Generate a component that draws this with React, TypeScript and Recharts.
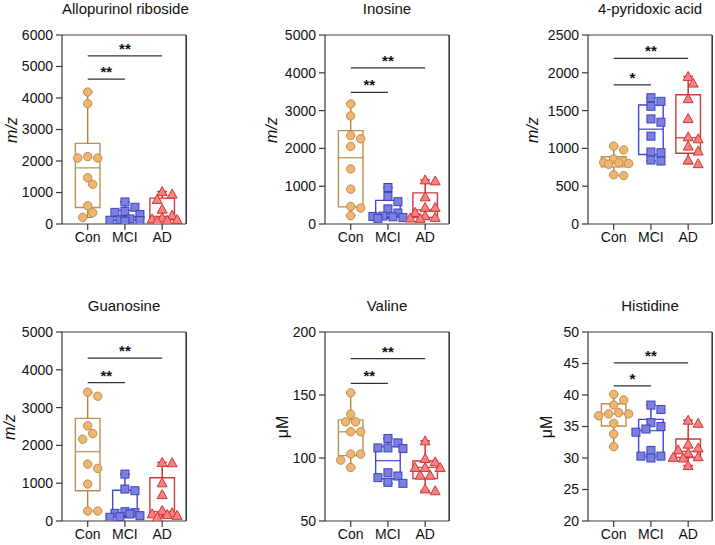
import React from "react";
import {
  ComposedChart,
  XAxis,
  YAxis,
  Scatter,
  ReferenceArea,
  ReferenceLine,
  ReferenceDot,
} from "recharts";

const groups = ["Con", "MCI", "AD"];

// Allopurinol riboside (m/z)
const alloCon = [4190, 3820, 2140, 2095, 2095, 1470, 1260, 580, 360, 210];
const alloMci = [700, 530, 400, 370, 300, 160, 130, 120, 110, 90];
const alloAd = [1030, 950, 780, 470, 280, 200, 160, 140, 120, 100];
const alloTicks = [0, 1000, 2000, 3000, 4000, 5000, 6000];
const alloSig = [4600, 5340];
const alloStars = ["**", "**"];

// Inosine (m/z)
const inoCon = [3175, 2860, 2342, 2254, 2053, 1456, 921, 465, 421, 219];
const inoMci = [965, 730, 590, 400, 290, 210, 200, 190, 170, 150];
const inoAd = [1167, 1140, 719, 439, 439, 307, 219, 175, 158, 149];
const inoTicks = [0, 1000, 2000, 3000, 4000, 5000];
const inoSig = [3480, 4130];
const inoStars = ["**", "**"];

// 4-pyridoxic acid (m/z)
const pyrCon = [1030, 980, 860, 830, 815, 810, 800, 790, 650, 640];
const pyrMci = [1670, 1623, 1557, 1390, 1346, 1162, 952, 943, 846, 833];
const pyrAd = [1952, 1864, 1658, 1395, 1154, 1127, 1031, 965, 846, 798];
const pyrTicks = [0, 500, 1000, 1500, 2000, 2500];
const pyrSig = [1840, 2190];
const pyrStars = ["*", "**"];

// Guanosine (m/z)
const guaCon = [3407, 3301, 2518, 2315, 2165, 1505, 1391, 977, 264, 264];
const guaMci = [1241, 845, 801, 246, 220, 202, 185, 141, 114, 97];
const guaAd = [1550, 1540, 1010, 700, 280, 220, 190, 170, 150, 100];
const guaTicks = [0, 1000, 2000, 3000, 4000, 5000];
const guaSig = [3660, 4310];
const guaStars = ["**", "**"];

// Valine (uM)
const valCon = [151.7, 134.8, 128.7, 128.7, 120.8, 120.8, 103.1, 103.1, 98.3, 92.5];
const valMci = [115.5, 112, 108, 108, 107.5, 88.3, 85.7, 84.4, 80.7, 79.9];
const valAd = [113.6, 99.6, 97, 92.5, 92.5, 92.5, 86.4, 86.4, 75.4, 74];
const valTicks = [50, 100, 150, 200];
const valSig = [159.3, 178.9];
const valStars = ["**", "**"];

// Histidine (uM)
const hisCon = [40.1, 39.2, 38.4, 37.2, 37.0, 37.0, 36.7, 35.5, 33.8, 31.8];
const hisMci = [38.4, 37.7, 35.6, 35.0, 34.6, 34.1, 31.2, 30.3, 30.3, 30.0];
const hisAd = [36.0, 35.5, 32.2, 31.6, 31.3, 30.8, 30.2, 30.1, 30.0, 28.8];
const hisTicks = [20, 25, 30, 35, 40, 45, 50];
const hisSig = [41.44, 45.09];
const hisStars = ["*", "**"];

const FONT = "'Liberation Sans', Arial, sans-serif";
const AXIS = "#3a3a3a";
const X_DOMAIN = [-0.69, 2.64];
const PLOT_W = 124;
const PLOT_H = 189;

const palette = [
  { fill: "#efb572", edge: "#c08d45", box: "#b5843c" },
  { fill: "#7b80d8", edge: "#3b3fc8", box: "#3034d6" },
  { fill: "#f38282", edge: "#d33434", box: "#c92323" },
];

// GraphPad-style quantile: rank (n+1)p, interpolated
function quantile(values: number[], p: number) {
  const s = [...values].sort((a, b) => a - b);
  const r = (s.length + 1) * p - 1;
  const lo = Math.max(0, Math.min(s.length - 1, Math.floor(r)));
  const hi = Math.min(s.length - 1, lo + 1);
  return s[lo] + (r - lo) * (s[hi] - s[lo]);
}

// small beeswarm: push overlapping points sideways, overlap allowed when crowded
function swarm(values: number[], pxPerUnit: number) {
  const d = 8;
  const step = 5;
  const xPx = PLOT_W / (X_DOMAIN[1] - X_DOMAIN[0]);
  const placed: { dx: number; py: number }[] = [];
  const order = values.map((_, i) => i).sort((a, b) => values[b] - values[a]);
  const out = values.map(() => 0);
  const cols = [0, 1, -1, 2, -2, 3, -3];
  for (const i of order) {
    const py = values[i] * pxPerUnit;
    let best = 0;
    let bestDist = -1;
    for (const m of cols) {
      const dx = m * step;
      const dist = placed.reduce((acc, p) => Math.min(acc, Math.hypot(p.dx - dx, p.py - py)), Infinity);
      if (dist >= d) {
        best = dx;
        break;
      }
      if (dist > bestDist) {
        bestDist = dist;
        best = dx;
      }
    }
    placed.push({ dx: best, py });
    out[i] = best / xPx;
  }
  return out;
}

const Circle = (p: any) => (
  <circle cx={p.cx} cy={p.cy} r={4.2} fill={palette[0].fill} stroke={palette[0].edge} strokeWidth={1} />
);
const Square = (p: any) => (
  <rect x={p.cx - 4} y={p.cy - 4} width={8} height={8} fill={palette[1].fill} stroke={palette[1].edge} strokeWidth={1} />
);
const Triangle = (p: any) => (
  <polygon
    points={`${p.cx},${p.cy - 5} ${p.cx - 5},${p.cy + 4} ${p.cx + 5},${p.cy + 4}`}
    fill={palette[2].fill}
    stroke={palette[2].edge}
    strokeWidth={1}
  />
);
const shapes = [Circle, Square, Triangle];

type PanelProps = {
  title: string;
  unit: string;
  italic: boolean;
  series: number[][];
  ticks: number[];
  sig: number[];
  stars: string[];
  left: number;
  top: number;
  labelGap: number;
};

function BoxPanel({ title, unit, italic, series, ticks, sig, stars, left, top, labelGap }: PanelProps) {
  const yMin = ticks[0];
  const yMax = ticks[ticks.length - 1];
  const pxPerUnit = PLOT_H / (yMax - yMin);
  const marginTop = 35;
  const yAxisW = 62;
  const width = yAxisW + PLOT_W + 14;
  const height = marginTop + PLOT_H + 40;
  const half = 0.33;
  const cap = 0.13;

  return (
    <div style={{ position: "absolute", left, top, width, height }}>
      <div
        style={{
          position: "absolute",
          left: yAxisW,
          width: PLOT_W,
          top: 0,
          textAlign: "center",
          fontFamily: FONT,
          fontSize: 15,
          color: "#111",
          whiteSpace: "nowrap",
        }}
      >
        {title}
      </div>
      <div
        style={{
          position: "absolute",
          left: yAxisW - labelGap - 30,
          top: marginTop + PLOT_H / 2 - 10,
          width: 60,
          height: 20,
          lineHeight: "20px",
          textAlign: "center",
          transform: "rotate(-90deg)",
          fontFamily: FONT,
          fontSize: 16,
          fontStyle: italic ? "italic" : "normal",
          color: "#111",
        }}
      >
        {unit}
      </div>
      <ComposedChart
        width={width}
        height={height}
        margin={{ top: marginTop, right: 14, bottom: 10, left: 0 }}
        style={{ position: "absolute", left: 0, top: 0 }}
      >
        <XAxis
          type="number"
          dataKey="x"
          domain={X_DOMAIN}
          ticks={[0, 1, 2]}
          tickFormatter={(v: number) => groups[v] ?? ""}
          allowDataOverflow
          height={30}
          tickSize={6}
          tickMargin={2}
          stroke={AXIS}
          strokeWidth={1.2}
          tick={{ fill: "#111", fontSize: 14, fontFamily: FONT }}
        />
        <YAxis
          type="number"
          dataKey="y"
          domain={[yMin, yMax]}
          ticks={ticks}
          allowDataOverflow
          width={yAxisW}
          tickSize={6}
          tickMargin={3}
          stroke={AXIS}
          strokeWidth={1.2}
          tick={{ fill: "#111", fontSize: 14, fontFamily: FONT }}
        />
        {/* top and right edges of the plot frame */}
        <ReferenceLine y={yMax} stroke={AXIS} strokeWidth={1.2} />
        <ReferenceLine x={X_DOMAIN[1]} stroke={AXIS} strokeWidth={1.2} />
        {series.map((vals, i) => {
          const lo = Math.min(...vals);
          const hi = Math.max(...vals);
          const q1 = quantile(vals, 0.25);
          const med = quantile(vals, 0.5);
          const q3 = quantile(vals, 0.75);
          const c = palette[i].box;
          return (
            <React.Fragment key={`box${i}`}>
              <ReferenceLine segment={[{ x: i, y: q3 }, { x: i, y: hi }]} stroke={c} strokeWidth={1.4} />
              <ReferenceLine segment={[{ x: i, y: lo }, { x: i, y: q1 }]} stroke={c} strokeWidth={1.4} />
              <ReferenceLine segment={[{ x: i - cap, y: hi }, { x: i + cap, y: hi }]} stroke={c} strokeWidth={1.4} />
              <ReferenceLine segment={[{ x: i - cap, y: lo }, { x: i + cap, y: lo }]} stroke={c} strokeWidth={1.4} />
              <ReferenceArea
                x1={i - half}
                x2={i + half}
                y1={q1}
                y2={q3}
                fill="#ffffff"
                fillOpacity={0}
                stroke={c}
                strokeWidth={1.4}
                strokeOpacity={0.9}
              />
              <ReferenceLine
                segment={[{ x: i - half, y: med }, { x: i + half, y: med }]}
                stroke={c}
                strokeWidth={1.4}
                strokeOpacity={0.8}
              />
            </React.Fragment>
          );
        })}
        {sig.map((y, k) => {
          const to = k === 0 ? 1 : 2;
          return (
            <React.Fragment key={`sig${k}`}>
              <ReferenceLine segment={[{ x: 0, y }, { x: to, y }]} stroke="#333" strokeWidth={1.2} />
              <ReferenceDot
                x={to / 2}
                y={y}
                r={0}
                fill="none"
                stroke="none"
                label={{
                  value: stars[k],
                  position: "top",
                  offset: 2,
                  fill: "#111",
                  fontSize: 15,
                  fontWeight: "bold",
                  fontFamily: FONT,
                }}
              />
            </React.Fragment>
          );
        })}
        {series.map((vals, i) => {
          const offs = swarm(vals, pxPerUnit);
          const data = vals.map((v, j) => ({ x: i + offs[j], y: v }));
          return (
            <Scatter
              key={`pts${i}`}
              name={groups[i]}
              data={data}
              shape={shapes[i]}
              isAnimationActive={false}
            />
          );
        })}
      </ComposedChart>
      {/* right edge of the frame, in case the reference line at the domain edge is dropped */}
      <div
        style={{
          position: "absolute",
          zIndex: 10,
          left: yAxisW,
          top: marginTop,
          width: PLOT_W + 1,
          height: PLOT_H,
          borderRight: `1.2px solid ${AXIS}`,
          boxSizing: "border-box",
          pointerEvents: "none",
        }}
      />
    </div>
  );
}

export default function App() {
  return (
    <div style={{ position: "absolute", left: 0, top: 0, width: 715, height: 545, background: "#fff" }}>
      <BoxPanel title="Allopurinol riboside" unit="m/z" italic series={[alloCon, alloMci, alloAd]} ticks={alloTicks} sig={alloSig} stars={alloStars} left={0} top={0} labelGap={50} />
      <BoxPanel title="Inosine" unit="m/z" italic series={[inoCon, inoMci, inoAd]} ticks={inoTicks} sig={inoSig} stars={inoStars} left={263} top={0} labelGap={53} />
      <BoxPanel title="4-pyridoxic acid" unit="m/z" italic series={[pyrCon, pyrMci, pyrAd]} ticks={pyrTicks} sig={pyrSig} stars={pyrStars} left={526} top={0} labelGap={55} />
      <BoxPanel title="Guanosine" unit="m/z" italic series={[guaCon, guaMci, guaAd]} ticks={guaTicks} sig={guaSig} stars={guaStars} left={0} top={297} labelGap={52} />
      <BoxPanel title="Valine" unit="μM" italic={false} series={[valCon, valMci, valAd]} ticks={valTicks} sig={valSig} stars={valStars} left={263} top={297} labelGap={42} />
      <BoxPanel title="Histidine" unit="μM" italic={false} series={[hisCon, hisMci, hisAd]} ticks={hisTicks} sig={hisSig} stars={hisStars} left={526} top={297} labelGap={41} />
    </div>
  );
}
